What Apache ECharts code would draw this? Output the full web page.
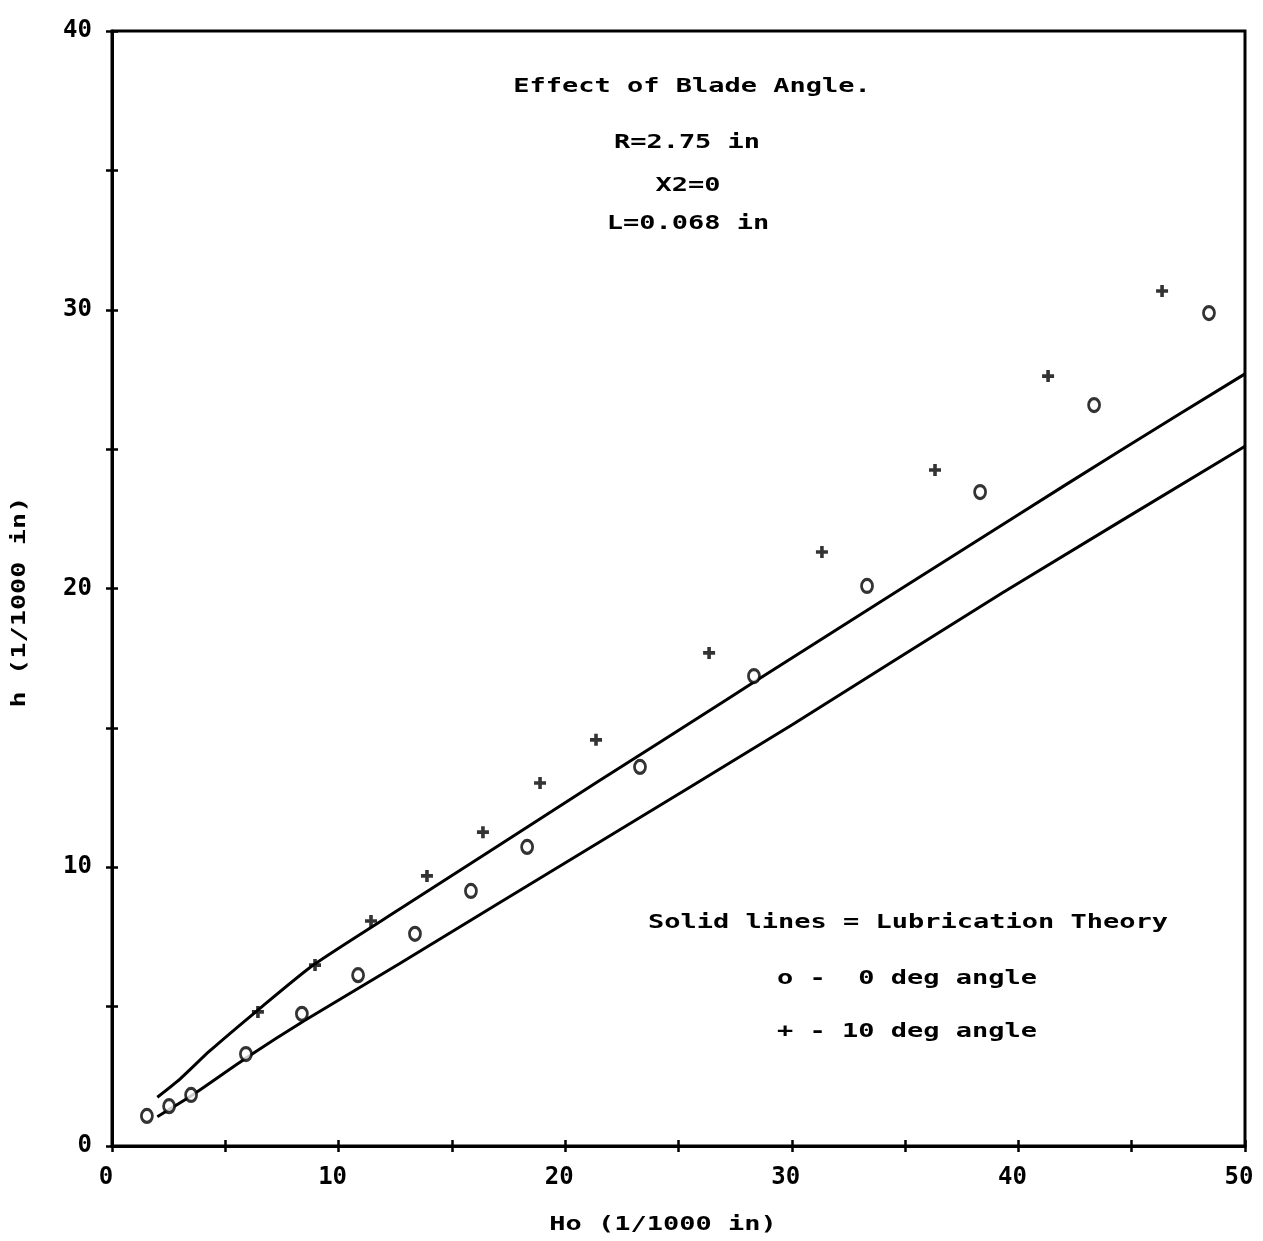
<!DOCTYPE html>
<html>
<head>
<meta charset="utf-8">
<script src="https://cdn.jsdelivr.net/npm/echarts@6/dist/echarts.min.js"></script>
<style>html,body{margin:0;padding:0;background:#fff;}#chart{width:1263px;height:1241px;}</style>
</head>
<body>
<div id="chart"></div>
<script>
// 0 deg blade angle (measured, "o")
const ho0 = [1.54, 2.52, 3.49, 5.91, 8.38, 10.86, 13.37, 15.84, 18.32, 23.30, 28.33, 33.32, 38.31, 43.34, 48.41];
const h0  = [1.08, 1.43, 1.83, 3.30, 4.74, 6.13, 7.61, 9.15, 10.73, 13.60, 16.86, 20.09, 23.46, 26.58, 29.88];
// 10 deg blade angle (measured, "+")
const ho10 = [6.44, 8.96, 11.43, 13.90, 16.37, 18.89, 21.36, 26.35, 31.33, 36.32, 41.31, 46.34];
const h10  = [4.81, 6.49, 8.07, 9.69, 11.26, 13.02, 14.57, 17.69, 21.31, 24.25, 27.62, 30.67];
// Lubrication theory curves
const theoryHoUpper = [2.0, 3.0, 4.3, 6.4, 8.9, 12.7, 21.5, 27.1, 29.5, 39.8, 44.4, 50.0];
const theoryHUpper  = [1.75, 2.4, 3.4, 4.85, 6.5, 8.5, 13.1, 16.0, 17.25, 22.55, 24.9, 27.7];
const theoryHoLower = [2.0, 3.5, 6.0, 8.5, 12.7, 21.5, 30.0, 39.3, 50.0];
const theoryHLower  = [1.05, 1.8, 3.2, 4.5, 6.55, 10.9, 15.1, 19.85, 25.1];
// Axis ticks
const xTicks = [0, 10, 20, 30, 40, 50];
const yTicks = [0, 10, 20, 30, 40];

const zip = (a, b) => a.map((v, i) => [v, b[i]]);
const chart = echarts.init(document.getElementById('chart'), null, {renderer: 'canvas'});

const monoFont = 'DejaVu Sans Mono';
const labelFont = {fontFamily: monoFont, fontWeight: 'bold', fontSize: 24, color: '#000'};

function txt(text, x, y, extra) {
  return Object.assign({
    type: 'text', x: x, y: y, scaleX: 1.42, z: 100,
    style: {text: text, fontFamily: monoFont, fontWeight: 'bold', fontSize: 19, fill: '#000',
            textAlign: 'center', verticalAlign: 'middle', textVerticalAlign: 'middle'}
  }, extra || {});
}

const option = {
  backgroundColor: '#fff',
  animation: false,
  grid: {left: 112, right: 18, top: 31, bottom: 95, containLabel: false,
         show: true, borderColor: '#000', borderWidth: 3, backgroundColor: 'transparent'},
  xAxis: [
    {type: 'value', min: 0, max: 50, interval: 5, position: 'bottom',
     axisLine: {show: true, lineStyle: {color: '#000', width: 3}},
     axisTick: {show: true, inside: true, length: 6, lineStyle: {color: '#000', width: 2.5}},
     axisLabel: Object.assign({margin: 20, padding: [0, 12, 0, 0],
       formatter: v => xTicks.indexOf(v) >= 0 ? String(v) : ''}, labelFont),
     splitLine: {show: false}},
    {type: 'value', min: 0, max: 50, interval: 5, position: 'bottom',
     axisLine: {show: false},
     axisTick: {show: true, inside: false, length: 6, lineStyle: {color: '#000', width: 2.5}},
     axisLabel: {show: false}, splitLine: {show: false}}
  ],
  yAxis: [
    {type: 'value', min: 0, max: 40, interval: 5, position: 'left',
     axisLine: {show: true, lineStyle: {color: '#000', width: 3}},
     axisTick: {show: true, inside: true, length: 6, lineStyle: {color: '#000', width: 2.5}},
     axisLabel: Object.assign({margin: 20, formatter: v => yTicks.indexOf(v) >= 0 ? String(v) : ''}, labelFont),
     splitLine: {show: false}},
    {type: 'value', min: 0, max: 40, interval: 5, position: 'left',
     axisLine: {show: false},
     axisTick: {show: true, inside: false, length: 6, lineStyle: {color: '#000', width: 2.5}},
     axisLabel: {show: false}, splitLine: {show: false}}
  ],
  series: [
    {name: 'Theory 10 deg', type: 'line', data: zip(theoryHoUpper, theoryHUpper), symbol: 'none',
     smooth: 0.2, lineStyle: {color: '#000', width: 3}, z: 2},
    {name: 'Theory 0 deg', type: 'line', data: zip(theoryHoLower, theoryHLower), symbol: 'none',
     smooth: 0.2, lineStyle: {color: '#000', width: 3}, z: 2},
    {name: '0 deg angle', type: 'scatter', data: zip(ho0, h0), symbol: 'circle', symbolSize: [11, 13],
     itemStyle: {color: '#fff', borderColor: '#000', borderWidth: 3}, z: 5},
    {name: '10 deg angle', type: 'scatter', data: zip(ho10, h10),
     symbol: 'path://M3.5,0H6.5V3.5H10V6.5H6.5V10H3.5V6.5H0V3.5H3.5Z', symbolSize: 12,
     itemStyle: {color: '#000'}, z: 5}
  ],
  graphic: [
    txt('Effect of Blade Angle.', 692, 87),
    txt('R=2.75 in', 687, 143),
    txt('X2=0', 688, 186),
    txt('L=0.068 in', 688, 224),
    txt('Solid lines = Lubrication Theory', 908, 923),
    txt('o -  0 deg angle', 907, 979),
    txt('+ - 10 deg angle', 907, 1032),
    txt('Ho (1/1000 in)', 663, 1225),
    txt('h (1/1000 in)', 20, 602, {rotation: Math.PI / 2})
  ]
};
chart.setOption(option);
</script>
</body>
</html>
